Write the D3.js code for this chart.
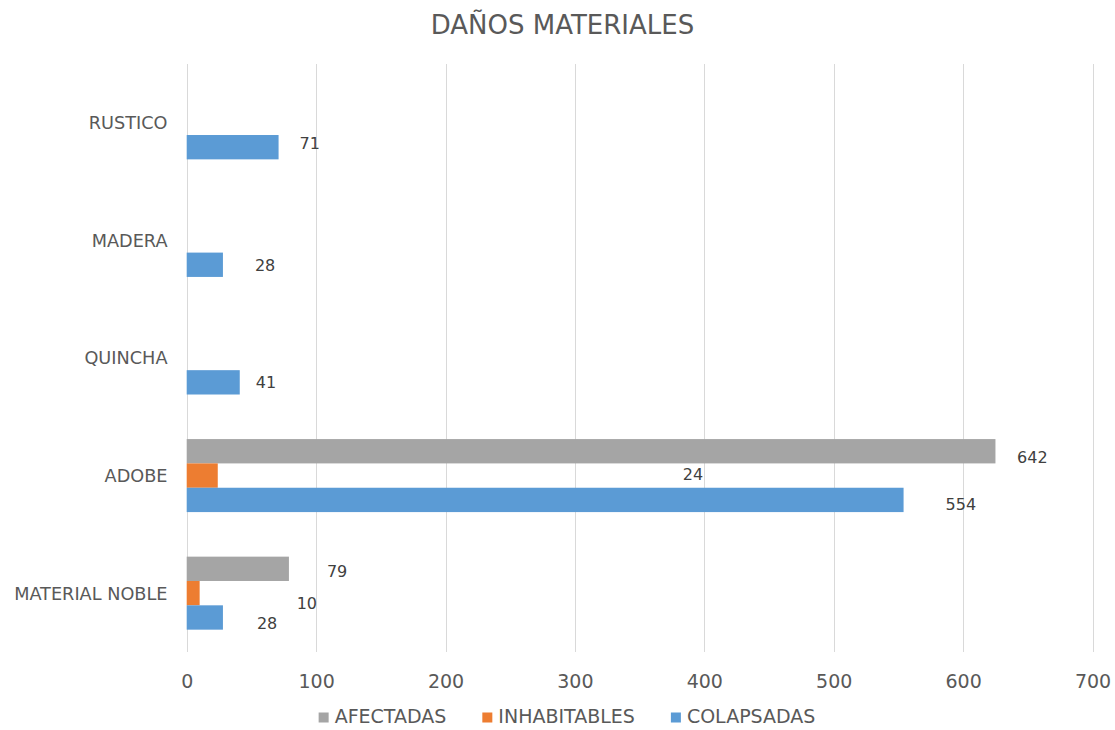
<!DOCTYPE html>
<html>
<head>
<meta charset="utf-8">
<script src="https://cdn.jsdelivr.net/npm/d3@7"></script>
<style>
  html, body { margin: 0; padding: 0; background: #ffffff; }
  svg { display: block; }
  text { font-family: "DejaVu Sans", "Liberation Sans", sans-serif; }
</style>
</head>
<body>
<svg id="chart" width="1115" height="730"></svg>
<script>
// ---------------- DATA ----------------
const title = "DAÑOS MATERIALES";
const categories = ["RUSTICO", "MADERA", "QUINCHA", "ADOBE", "MATERIAL NOBLE"];
const seriesNames = ["AFECTADAS", "INHABITABLES", "COLAPSADAS"];
const afectadas    = [null, null, null, 625, 79];
const afectadasLabels = [null, null, null, "642", "79"];
const inhabitables = [null, null, null, 24, 10];
const colapsadas   = [71, 28, 41, 554, 28];
const xTicks = [0, 100, 200, 300, 400, 500, 600, 700];

// ---------------- STYLE / LAYOUT ----------------
const colors = { AFECTADAS: "#A5A5A5", INHABITABLES: "#ED7D31", COLAPSADAS: "#5B9BD5" };
const textColor = "#595959";
const labelColor = "#404040";
const gridColor = "#D9D9D9";

// manual data-label placement (px offset from bar end, px offset from bar center)
const labelNudge = {
  "RUSTICO|COLAPSADAS": [21, -4],
  "MADERA|COLAPSADAS": [32, 0],
  "QUINCHA|COLAPSADAS": [16, 0],
  "ADOBE|AFECTADAS": [21.6, 6],
  "ADOBE|INHABITABLES": [465, -1],
  "ADOBE|COLAPSADAS": [42, 4.7],
  "MATERIAL NOBLE|AFECTADAS": [38, 2],
  "MATERIAL NOBLE|INHABITABLES": [97, 10],
  "MATERIAL NOBLE|COLAPSADAS": [34, 5.5]
};

const seriesValues = { AFECTADAS: afectadas, INHABITABLES: inhabitables, COLAPSADAS: colapsadas };
const seriesLabels = { AFECTADAS: afectadasLabels };

const svg = d3.select("#chart");

const plot = { left: 186.7, right: 1092.5, top: 64, bottom: 652 };

const x = d3.scaleLinear().domain([0, 700]).range([plot.left, plot.right]);
const y = d3.scaleBand().domain(categories).range([plot.top, plot.bottom])
  .paddingInner(0.379).paddingOuter(0.19);
const ySub = d3.scaleBand().domain(seriesNames).range([0, y.bandwidth()]).padding(0);

// Title
svg.append("text")
  .attr("x", 562.5).attr("y", 34.3)
  .attr("text-anchor", "middle")
  .attr("fill", textColor)
  .style("font-size", "26px")
  .text(title);

// Gridlines
svg.append("g").selectAll("line").data(xTicks).join("line")
  .attr("x1", d => Math.round(x(d)) + 0.5).attr("x2", d => Math.round(x(d)) + 0.5)
  .attr("y1", plot.top).attr("y2", plot.bottom)
  .attr("stroke", gridColor).attr("stroke-width", 1);

// X axis tick labels (via d3 axis)
const xAxis = d3.axisBottom(x).tickValues(xTicks).tickSize(0).tickPadding(0).tickFormat(d3.format("d"));
const gx = svg.append("g").attr("transform", `translate(0, ${plot.bottom})`).call(xAxis);
gx.select(".domain").remove();
gx.selectAll("text")
  .attr("y", 0).attr("dy", 0)
  .attr("transform", "translate(0, 36)")
  .attr("fill", textColor)
  .style("font-size", "19px")
  .style("font-family", "'DejaVu Sans', sans-serif");

// Y axis category labels (via d3 axis)
const yAxis = d3.axisLeft(y).tickSize(0).tickPadding(0);
const gy = svg.append("g").attr("transform", `translate(167.5, 0)`).call(yAxis);
gy.select(".domain").remove();
gy.selectAll("text")
  .attr("x", 0).attr("dy", "0.36em")
  .attr("fill", textColor)
  .style("font-size", "17.7px")
  .style("font-family", "'DejaVu Sans', sans-serif");

// Bars
const rows = [];
categories.forEach((c, i) => {
  seriesNames.forEach(s => {
    const v = seriesValues[s][i];
    if (v === null || v === undefined) return;
    const lbl = seriesLabels[s] ? seriesLabels[s][i] : String(v);
    rows.push({ cat: c, series: s, value: v, label: lbl });
  });
});

svg.append("g").selectAll("rect").data(rows).join("rect")
  .attr("x", x(0))
  .attr("y", d => y(d.cat) + ySub(d.series))
  .attr("width", d => x(d.value) - x(0))
  .attr("height", ySub.bandwidth())
  .attr("fill", d => colors[d.series]);

// Data labels
svg.append("g").selectAll("text").data(rows).join("text")
  .attr("x", d => x(d.value) + (labelNudge[d.cat + "|" + d.series] || [8, 0])[0])
  .attr("y", d => y(d.cat) + ySub(d.series) + ySub.bandwidth() / 2 + (labelNudge[d.cat + "|" + d.series] || [8, 0])[1])
  .attr("dy", "0.36em")
  .attr("fill", labelColor)
  .style("font-size", "16px")
  .text(d => d.label);

// Legend
const legend = svg.append("g");
const items = legend.selectAll("g").data(seriesNames).join("g");
items.append("rect").attr("width", 10).attr("height", 10).attr("y", -4)
  .attr("fill", d => colors[d]);
items.append("text").attr("x", 16).attr("dy", "0.36em")
  .attr("fill", textColor).style("font-size", "19px").text(d => d);
let cx = 0;
const gap = 36;
items.each(function() {
  const w = this.getBBox().width;
  d3.select(this).attr("data-x", cx);
  cx += w + gap;
});
const totalW = cx - gap;
const startX = 567 - totalW / 2;
items.attr("transform", function() {
  return `translate(${startX + (+d3.select(this).attr("data-x"))}, 716.5)`;
});
</script>
</body>
</html>
